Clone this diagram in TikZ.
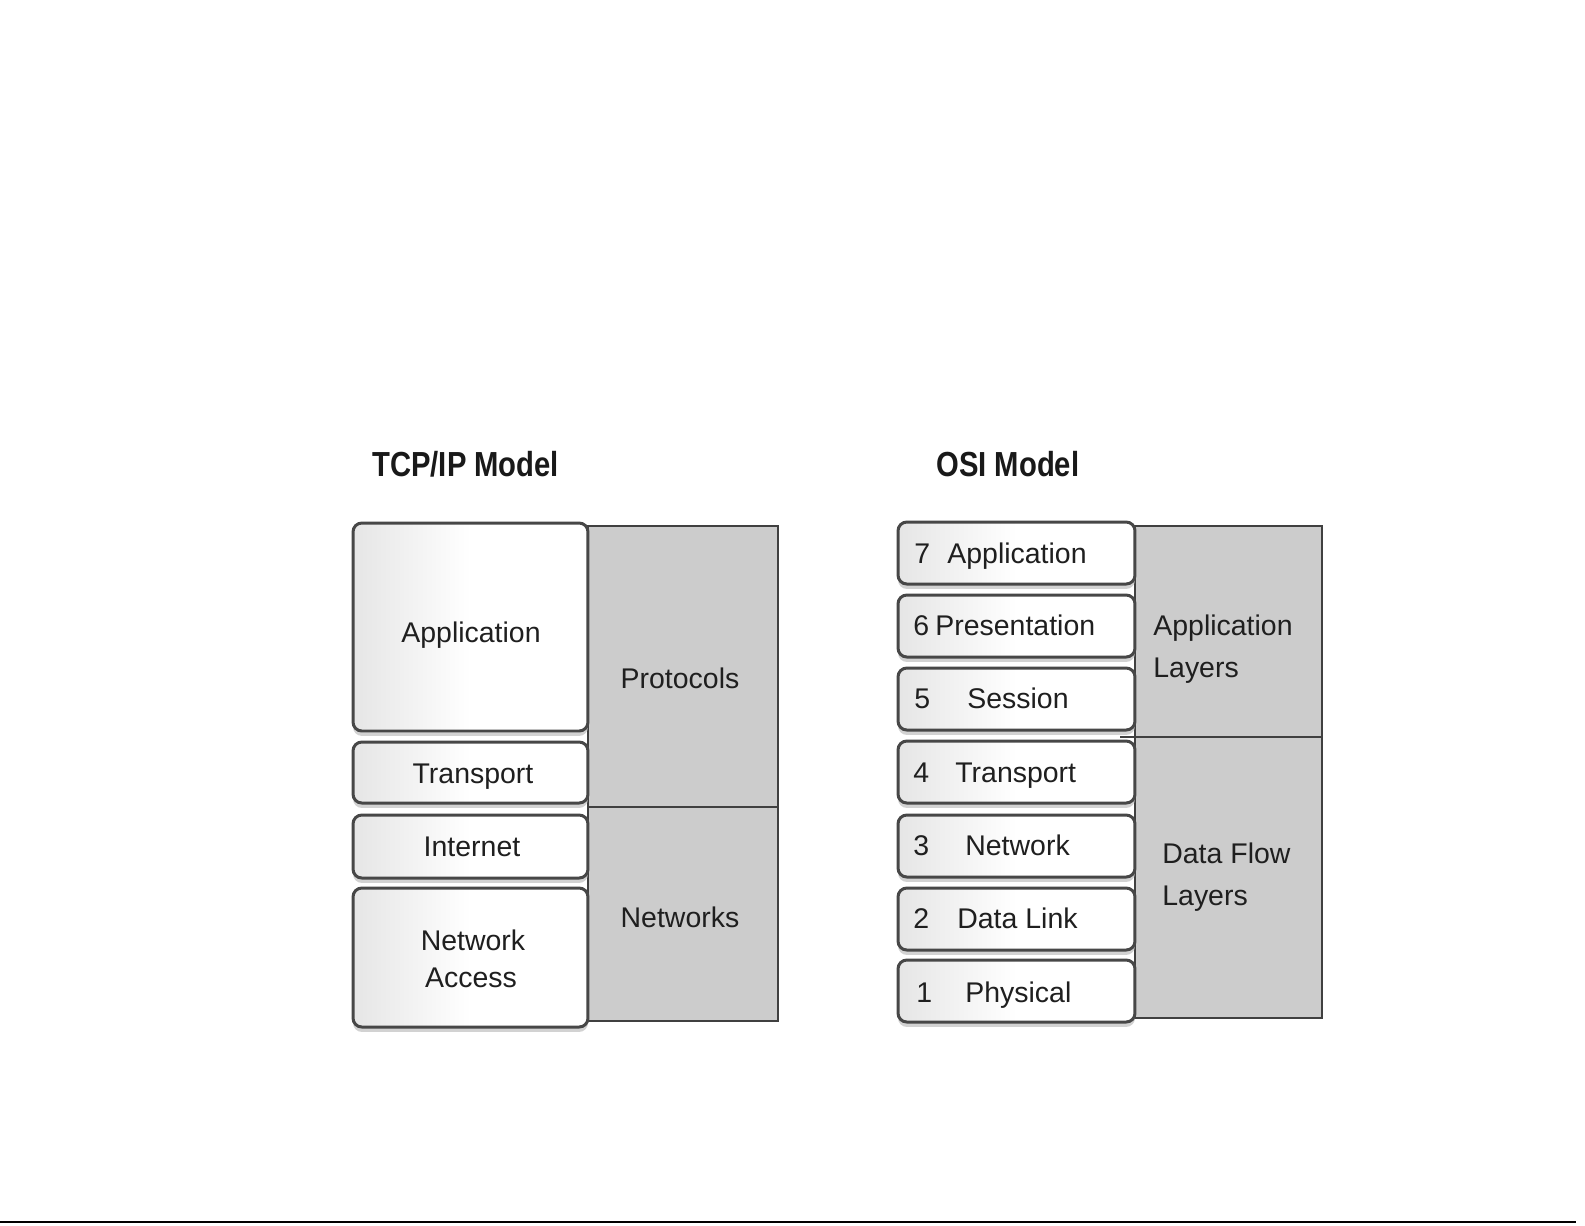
\documentclass[tikz,border=0pt]{standalone}
\usepackage{fontspec}
\setmainfont{Liberation Sans}
\newfontfamily\titlefont{Liberation Sans}[FakeStretch=0.84]
\usetikzlibrary{shadows}
\begin{document}
\begin{tikzpicture}[x=0.02cm,y=-0.02cm,
  layerbox/.style={draw=black!72, line width=1.7pt, rounded corners=5pt, left color=black!10, right color=white, middle color=white, inner sep=0pt,
    drop shadow={shadow xshift=0pt, shadow yshift=-2.8pt, fill=black!22, opacity=0.8}},
  tcpbox/.style={layerbox, minimum width=4.7cm},
  osibox/.style={layerbox, minimum width=4.74cm, minimum height=1.24cm},
  groupbox/.style={draw=black!75, line width=0.9pt, fill=black!20},
  lbl/.style={font=\fontsize{16.2}{19}\selectfont, text=black!88, inner sep=0pt},
  ttl/.style={font=\titlefont\bfseries\fontsize{19.8}{23}\selectfont, text=black!90, inner sep=0pt, anchor=base west}]
\useasboundingbox (0,0) rectangle (1585,1225);
\fill[white] (0,0) rectangle (1585,1225);

% titles
\node[ttl] (tcpttl) at (372,476) {TCP/IP Model};
\node[ttl] (osittl) at (936,476) {OSI Model};

% ---------- TCP/IP side ----------
\draw[groupbox] (588,526) rectangle (778,1021);
\draw[draw=black!75, line width=0.9pt] (588,807) -- (778,807);

\node[tcpbox, minimum height=4.16cm] (tapp) at (470.5,627) {};
\node[tcpbox, minimum height=1.22cm] (ttra) at (470.5,772.5) {};
\node[tcpbox, minimum height=1.26cm] (tint) at (470.5,846.5) {};
\node[tcpbox, minimum height=2.78cm] (tnet) at (470.5,957.5) {};

\node[lbl, anchor=base] (tappl) at (471,642) {Application};
\node[lbl, anchor=base] (ttral) at (473,783) {Transport};
\node[lbl, anchor=base] (tintl) at (472,856) {Internet};
\node[lbl, anchor=base] (tnetl1) at (473,950) {Network};
\node[lbl, anchor=base] (tnetl2) at (471,987) {Access};
\node[lbl, anchor=base] (tprot) at (680,688) {Protocols};
\node[lbl, anchor=base] (tnets) at (680,927) {Networks};

% ---------- OSI side ----------
\draw[groupbox] (1135,526) rectangle (1322,1018);
\draw[draw=black!75, line width=0.9pt] (1120,737) -- (1322,737);

\node[osibox] (o7) at (1016.5,553) {};
\node[osibox] (o6) at (1016.5,626) {};
\node[osibox] (o5) at (1016.5,699) {};
\node[osibox] (o4) at (1016.5,772) {};
\node[osibox] (o3) at (1016.5,846) {};
\node[osibox] (o2) at (1016.5,919) {};
\node[osibox] (o1) at (1016.5,991) {};

\node[lbl, anchor=base west] (n7) at (914,563) {7};
\node[lbl, anchor=base west] (w7) at (947,563) {Application};
\node[lbl, anchor=base west] (n6) at (913,635) {6};
\node[lbl, anchor=base west] (w6) at (935,635) {Presentation};
\node[lbl, anchor=base west] (n5) at (914,708) {5};
\node[lbl, anchor=base west] (w5) at (967,708) {Session};
\node[lbl, anchor=base west] (n4) at (913,782) {4};
\node[lbl, anchor=base west] (w4) at (955,782) {Transport};
\node[lbl, anchor=base west] (n3) at (913,855) {3};
\node[lbl, anchor=base west] (w3) at (965,855) {Network};
\node[lbl, anchor=base west] (n2) at (913,928) {2};
\node[lbl, anchor=base west] (w2) at (957,928) {Data Link};
\node[lbl, anchor=base west] (n1) at (916,1002) {1};
\node[lbl, anchor=base west] (w1) at (965,1002) {Physical};

\node[lbl, anchor=base west] (al1) at (1153,635) {Application};
\node[lbl, anchor=base west] (al2) at (1153,677) {Layers};
\node[lbl, anchor=base west] (dl1) at (1162,863) {Data Flow};
\node[lbl, anchor=base west] (dl2) at (1162,905) {Layers};

% bottom rule
\draw[black, line width=1.2pt] (0,1222) -- (1576,1222);
\end{tikzpicture}
\end{document}
